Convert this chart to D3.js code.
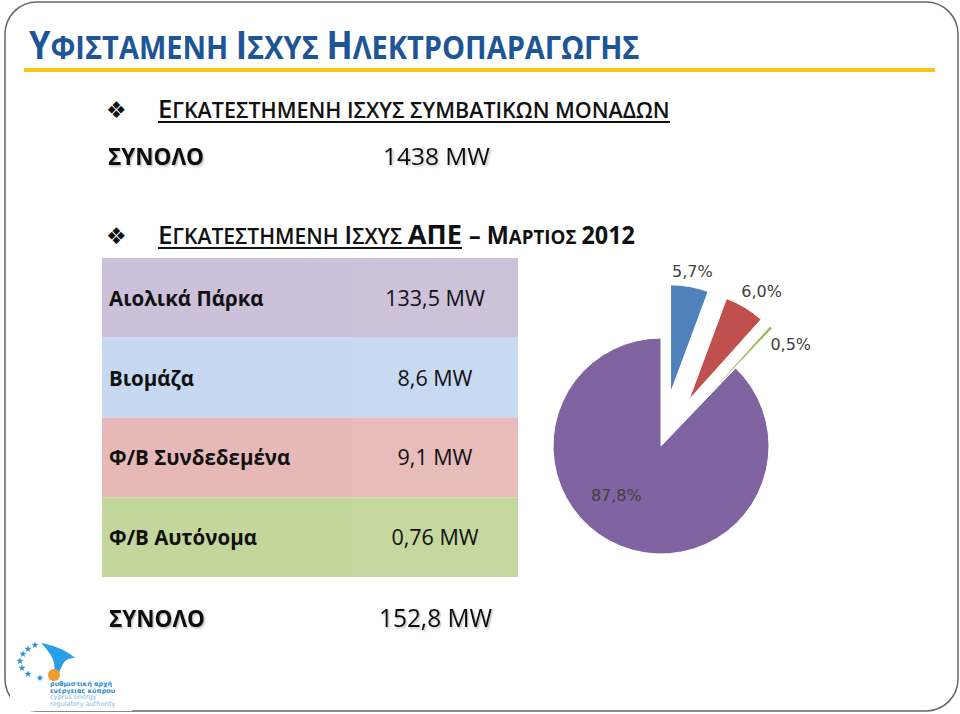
<!DOCTYPE html>
<html>
<head>
<meta charset="utf-8">
<script src="https://cdn.jsdelivr.net/npm/d3@7"></script>
<style>
  body { margin: 0; background: #fff; }
  svg { display: block; }
</style>
</head>
<body>
<div id="chart"></div>
<script>
// data
var categories = ["Αιολικά Πάρκα", "Βιομάζα", "Φ/Β Συνδεδεμένα", "Φ/Β Αυτόνομα"];
var capacityMW = [133.5, 8.6, 9.1, 0.76];
var capacityLabels = ["133,5 MW", "8,6 MW", "9,1 MW", "0,76 MW"];
var pieLabels = ["87,8%", "5,7%", "6,0%", "0,5%"];
var conventionalTotal = "1438 MW";
var resTotal = "152,8 MW";
var totalLabel = "ΣΥΝΟΛΟ";
var titleText = "Υφισταμενη Ισχυς Ηλεκτροπαραγωγης";
var heading1 = "Εγκατεστημενη ισχυς συμβατικων μοναδων";
var heading2a = "Εγκατεστημενη Ισχυς ΑΠΕ";
var heading2b = "– Μαρτιος 2012";

var rowColors = ["#ccc0da", "#c6d9f1", "#e6b9b8", "#c3d69b"];
var sliceColors = ["#8064a2", "#4f81bd", "#c0504d", "#9bbb59"];

(function() {
  var width = 960, height = 714;
  var FONT = "'Open Sans', 'Noto Sans', sans-serif";

  var svg = d3.select("#chart").append("svg")
    .attr("width", width)
    .attr("height", height);

  var defs = svg.append("defs");
  var sh = defs.append("filter").attr("id", "shadow")
    .attr("x", "-10%").attr("y", "-20%").attr("width", "130%").attr("height", "150%");
  sh.append("feDropShadow").attr("dx", 1.5).attr("dy", 1.5)
    .attr("stdDeviation", 0.8).attr("flood-color", "#000").attr("flood-opacity", 0.25);

  // slide frame
  svg.append("rect")
    .attr("x", 5).attr("y", 2)
    .attr("width", 953).attr("height", 709)
    .attr("rx", 32).attr("ry", 32)
    .attr("fill", "#fff")
    .attr("stroke", "#666").attr("stroke-width", 1.5);

  // small caps: capitals big, lower case turned to capitals but smaller
  function smallCaps(sel, str, big, small) {
    var parts = [];
    str.split("").forEach(function(ch) {
      var isUp = ch !== ch.toLowerCase() || /[0-9–\- ]/.test(ch);
      if (ch === " ") isUp = parts.length ? parts[parts.length - 1].up : true;
      var last = parts[parts.length - 1];
      if (last && last.up === isUp) last.s += ch;
      else parts.push({ s: ch, up: isUp });
    });
    parts.forEach(function(p) {
      sel.append("tspan")
        .attr("font-size", p.up ? big : small)
        .text(p.s.toUpperCase());
    });
    return sel;
  }

  // squeeze a text horizontally so it spans w pixels, anchored at (x, y)
  function place(sel, x, y, w) {
    var len = sel.node().getComputedTextLength();
    sel.attr("transform", "translate(" + x + "," + y + ") scale(" + (w / len) + ",1)");
    return sel;
  }

  function underline(x, y, w) {
    svg.append("line")
      .attr("x1", x).attr("x2", x + w)
      .attr("y1", y).attr("y2", y)
      .attr("stroke", "#111").attr("stroke-width", 2);
  }

  // title
  var title = svg.append("text")
    .attr("font-family", FONT)
    .attr("font-weight", 700)
    .attr("fill", "#1d5597");
  smallCaps(title, titleText, 39, 33);
  place(title, 29, 59, 611);

  svg.append("line")
    .attr("x1", 24).attr("x2", 935)
    .attr("y1", 70).attr("y2", 70)
    .attr("stroke", "#f5c518").attr("stroke-width", 4);

  // bullets
  [118, 244].forEach(function(y) {
    svg.append("text")
      .attr("x", 106).attr("y", y)
      .attr("font-family", "'DejaVu Sans', sans-serif")
      .attr("font-size", 23)
      .attr("fill", "#111")
      .text("❖");
  });

  // heading 1
  var h1 = svg.append("text")
    .attr("font-family", FONT)
    .attr("font-weight", 600)
    .attr("fill", "#111");
  smallCaps(h1, heading1, 25, 21);
  place(h1, 158, 118, 512);
  underline(158, 122, 512);

  // conventional total
  place(svg.append("text")
    .attr("font-family", FONT).attr("font-weight", 700)
    .attr("font-size", 24).attr("fill", "#111")
    .attr("filter", "url(#shadow)")
    .text(totalLabel), 108, 165, 96);
  place(svg.append("text")
    .attr("font-family", FONT)
    .attr("font-size", 24).attr("fill", "#111")
    .attr("filter", "url(#shadow)")
    .text(conventionalTotal), 383, 165, 107);

  // heading 2
  var h2 = svg.append("text")
    .attr("font-family", FONT)
    .attr("font-weight", 600)
    .attr("fill", "#111");
  smallCaps(h2, heading2a, 26, 21);
  h2.selectAll("tspan").filter(function() { return this.textContent === "ΑΠΕ"; })
    .attr("font-weight", 700).attr("font-size", 27);
  place(h2, 158, 244, 304);
  underline(158, 248, 304);

  var h2b = svg.append("text")
    .attr("font-family", FONT)
    .attr("font-weight", 700)
    .attr("fill", "#111");
  smallCaps(h2b, heading2b, 25, 20);
  place(h2b, 469, 244, 166);

  // table
  var rowScale = d3.scaleBand().domain(categories).range([258, 577]).padding(0);
  var colX = [102, 352, 518];

  var rows = svg.selectAll(".row")
    .data(categories)
    .enter().append("g")
    .attr("class", "row")
    .attr("transform", function(d) { return "translate(0," + rowScale(d) + ")"; });

  rows.append("rect")
    .attr("x", colX[0]).attr("width", colX[1] - colX[0])
    .attr("height", rowScale.bandwidth())
    .attr("fill", function(d, i) { return rowColors[i]; });
  rows.append("rect")
    .attr("x", colX[1]).attr("width", colX[2] - colX[1])
    .attr("height", rowScale.bandwidth())
    .attr("fill", function(d, i) { return rowColors[i]; })
    .attr("opacity", 0.96);

  rows.append("text")
    .attr("x", 109)
    .attr("y", rowScale.bandwidth() / 2 + 8)
    .attr("font-family", FONT).attr("font-weight", 700)
    .attr("font-size", 20.5).attr("fill", "#111")
    .text(function(d) { return d; });

  rows.append("text")
    .attr("x", 435)
    .attr("y", rowScale.bandwidth() / 2 + 8)
    .attr("text-anchor", "middle")
    .attr("font-family", FONT)
    .attr("font-size", 21.5).attr("fill", "#111")
    .text(function(d, i) { return capacityLabels[i]; });

  // renewable total
  place(svg.append("text")
    .attr("font-family", FONT).attr("font-weight", 700)
    .attr("font-size", 24).attr("fill", "#111")
    .attr("filter", "url(#shadow)")
    .text(totalLabel), 109, 627, 96);
  place(svg.append("text")
    .attr("font-family", FONT)
    .attr("font-size", 25).attr("fill", "#111")
    .attr("filter", "url(#shadow)")
    .text(resTotal), 379, 627, 113);

  // pie
  var cx = 661, cy = 446, radius = 108, explode = 54;
  var total = d3.sum(capacityMW);
  var start = -2 * Math.PI * capacityMW[0] / total;

  var pie = d3.pie().sort(null).value(function(d) { return d; })
    .startAngle(start).endAngle(start + 2 * Math.PI);
  var arc = d3.arc().innerRadius(0).outerRadius(radius);
  var arcs = pie(capacityMW);

  // Excel best-fit nudges for label placement
  var labelShift = [20, 0, 2, 9];
  var labelDist = [67, 177, 184, 165];

  var pieG = svg.append("g").attr("transform", "translate(" + cx + "," + cy + ")");

  function mid(d) { return (d.startAngle + d.endAngle) / 2; }

  pieG.selectAll(".slice")
    .data(arcs)
    .enter().append("path")
    .attr("class", "slice")
    .attr("transform", function(d, i) {
      if (i === 0) return null;
      var a = mid(d);
      return "translate(" + Math.sin(a) * explode + "," + (-Math.cos(a) * explode) + ")";
    })
    .attr("d", arc)
    .attr("fill", function(d, i) { return sliceColors[i]; })
    .attr("stroke", "#fff").attr("stroke-width", 1);

  pieG.selectAll(".plabel")
    .data(arcs)
    .enter().append("text")
    .attr("class", "plabel")
    .attr("x", function(d, i) { return Math.sin(mid(d) + labelShift[i] * Math.PI / 180) * labelDist[i]; })
    .attr("y", function(d, i) { return -Math.cos(mid(d) + labelShift[i] * Math.PI / 180) * labelDist[i]; })
    .attr("text-anchor", "middle")
    .attr("dominant-baseline", "central")
    .attr("font-family", "'DejaVu Sans', Verdana, sans-serif")
    .attr("font-size", 16)
    .attr("fill", "#404040")
    .text(function(d, i) { return pieLabels[i]; });

  // logo
  var logo = svg.append("g");
  logo.append("rect").attr("x", 10).attr("y", 638).attr("width", 122).attr("height", 73).attr("fill", "#fff");
  var stars = [[35, 645], [28, 649], [23, 654], [20, 661], [22, 668], [28, 674], [40, 678]];
  logo.selectAll(".star").data(stars).enter().append("path")
    .attr("d", d3.symbol(d3.symbolStar, 16))
    .attr("transform", function(d) { return "translate(" + d[0] + "," + d[1] + ")"; })
    .attr("fill", "#2f8fd6");
  logo.append("path")
    .attr("d", "M41,643 C52,645 65,649 75,658 C69,658 65,660 63,664 C61,668 59,672 58,676 L54,671 C56,663 52,654 41,643 Z")
    .attr("fill", "#27a0e6");
  logo.append("circle").attr("cx", 54).attr("cy", 675).attr("r", 6).attr("fill", "#f29a2e");
  var logoLines = [
    ["ρυθμιστική αρχή", "#2a8bd0", 700, 686],
    ["ενέργειας κύπρου", "#2a8bd0", 700, 692.5],
    ["cyprus energy", "#7fb8e6", 400, 699],
    ["regulatory authority", "#7fb8e6", 400, 705.5]
  ];
  logo.selectAll(".ltxt").data(logoLines).enter().append("text")
    .attr("x", 50).attr("y", function(d) { return d[3]; })
    .attr("font-family", "'DejaVu Sans', sans-serif")
    .attr("font-size", 6.5)
    .attr("font-weight", function(d) { return d[2]; })
    .attr("fill", function(d) { return d[1]; })
    .text(function(d) { return d[0]; });
})();
</script>
</body>
</html>
